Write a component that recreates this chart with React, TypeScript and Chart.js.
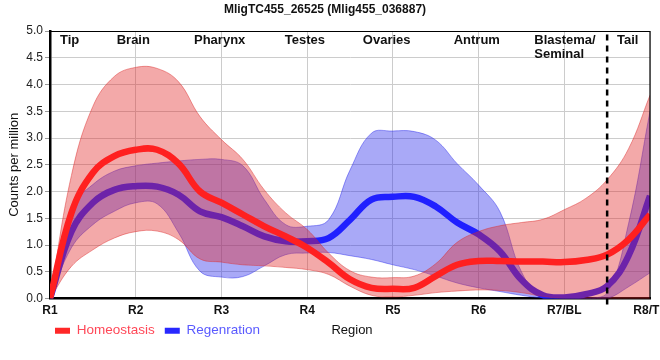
import { useEffect, useRef } from "react";
import { Chart, registerables } from "chart.js";

Chart.register(...registerables);

const xPositions = [1, 1.25, 1.5, 1.75, 2, 2.25, 2.5, 2.75, 3, 3.25, 3.5, 3.75, 4, 4.25, 4.5, 4.75, 5, 5.25, 5.5, 5.75, 6, 6.25, 6.5, 6.75, 7, 7.25, 7.5, 7.75, 8];
const regionTickLabels = ["R1", "R2", "R3", "R4", "R5", "R6", "R7/BL", "R8/TL"];

const homeostasisMean = [0, 1.6, 2.35, 2.66, 2.78, 2.78, 2.52, 2.0, 1.79, 1.57, 1.35, 1.16, 0.95, 0.67, 0.36, 0.2, 0.18, 0.2, 0.42, 0.63, 0.7, 0.7, 0.69, 0.69, 0.68, 0.72, 0.82, 1.1, 1.57];
const homeostasisUpper = [0, 2.3, 3.59, 4.15, 4.32, 4.3, 4.05, 3.4, 2.97, 2.6, 2.03, 1.6, 1.29, 0.85, 0.52, 0.4, 0.39, 0.42, 0.65, 1.05, 1.25, 1.36, 1.42, 1.48, 1.66, 1.87, 2.22, 2.8, 3.8];
const homeostasisLower = [0, 0.6, 0.91, 1.13, 1.25, 1.26, 1.1, 0.74, 0.68, 0.63, 0.61, 0.58, 0.54, 0.45, 0.23, 0.06, 0.03, 0.06, 0.11, 0.14, 0.16, 0.15, 0.11, 0.04, 0, 0, 0, 0, 0];
const regenerationMean = [0, 1.25, 1.79, 2.03, 2.1, 2.09, 1.94, 1.63, 1.52, 1.35, 1.16, 1.07, 1.07, 1.13, 1.47, 1.85, 1.9, 1.9, 1.72, 1.42, 1.2, 0.88, 0.35, 0.06, 0.02, 0.08, 0.23, 0.8, 1.92];
const regenerationUpper = [0, 1.7, 2.13, 2.38, 2.48, 2.53, 2.57, 2.6, 2.6, 2.48, 1.85, 1.38, 1.35, 1.47, 2.4, 3.09, 3.13, 3.12, 2.96, 2.52, 2.12, 1.62, 0.5, 0, 0, 0, 0.1, 1.4, 3.5];
const regenerationLower = [0, 0.95, 1.38, 1.63, 1.79, 1.77, 1.23, 0.51, 0.4, 0.41, 0.61, 0.82, 0.85, 0.86, 0.8, 0.73, 0.63, 0.54, 0.42, 0.29, 0.2, 0.13, 0.06, 0.01, 0, 0, 0, 0.22, 0.48];

const regionNames = [["Tip"], ["Brain"], ["Pharynx"], ["Testes"], ["Ovaries"], ["Antrum"], ["Blastema/", "Seminal"], ["Tail"]];
const regionNameX = [1.117, 1.778, 2.68, 3.74, 4.65, 5.71, 6.65, 7.615];
const boundaryX = [7.5, 7.5];
const boundaryY = [-0.11, 5];

const FONT = "'Liberation Sans', Arial, sans-serif";

const pts = (arr: number[]) => xPositions.map((x, i) => ({ x, y: arr[i] }));

const framePlugin = {
  id: "frameAndLabels",
  afterLayout(chart: any) {
    const lg = chart.legend;
    if (lg) {
      lg.left -= 5;
      lg.right -= 5;
    }
  },
  afterDraw(chart: any) {
    const { ctx, chartArea } = chart;
    const { left, right, top, bottom } = chartArea;
    const xs = chart.scales.x;
    ctx.save();
    ctx.strokeStyle = "#000";
    ctx.lineWidth = 1.2;
    ctx.beginPath();
    ctx.moveTo(left, top + 0.5);
    ctx.lineTo(right, top + 0.5);
    ctx.lineTo(right, bottom);
    ctx.stroke();

    ctx.fillStyle = "#111";
    ctx.font = `bold 13px ${FONT}`;
    ctx.textAlign = "left";
    ctx.textBaseline = "alphabetic";
    regionNames.forEach((lines, i) => {
      const px = xs.getPixelForValue(regionNameX[i]);
      lines.forEach((t, j) => ctx.fillText(t, px, top + 13 + j * 14));
    });

    const lg = chart.legend;
    if (lg && lg.legendHitBoxes && lg.legendHitBoxes.length) {
      const hb = lg.legendHitBoxes[0];
      ctx.font = `13px ${FONT}`;
      ctx.fillStyle = "#111";
      ctx.textAlign = "center";
      ctx.textBaseline = "middle";
      ctx.fillText("Region", (left + right) / 2 + 2, hb.top + hb.height / 2);
    }
    ctx.restore();
  },
};

export default function App() {
  const ref = useRef<HTMLCanvasElement | null>(null);
  useEffect(() => {
    if (!ref.current) return;
    const band = { pointRadius: 0, borderWidth: 1, tension: 0.4 };
    const chart = new Chart(ref.current, {
      type: "line",
      data: {
        datasets: [
          { label: "Homeostasis", data: pts(homeostasisMean), borderColor: "#ff2020", backgroundColor: "#ff2020", borderWidth: 6.5, pointRadius: 0, fill: false, order: 1, tension: 0.4 },
          { label: "hUpper", data: pts(homeostasisUpper), borderColor: "rgba(220,40,40,0.45)", backgroundColor: "rgba(225,40,40,0.4)", fill: 2, order: 2, ...band },
          { label: "hLower", data: pts(homeostasisLower), borderColor: "rgba(220,40,40,0.45)", fill: false, order: 3, ...band },
          { label: "Regenration", data: pts(regenerationMean), borderColor: "#2020ff", backgroundColor: "#2020ff", borderWidth: 6.5, pointRadius: 0, fill: false, order: 4, tension: 0.4 },
          { label: "rUpper", data: pts(regenerationUpper), borderColor: "rgba(40,40,235,0.45)", backgroundColor: "rgba(40,40,235,0.4)", fill: 5, order: 5, ...band },
          { label: "rLower", data: pts(regenerationLower), borderColor: "rgba(40,40,235,0.45)", fill: false, order: 6, ...band },
          { label: "boundary", data: boundaryX.map((x, i) => ({ x, y: boundaryY[i] })), borderColor: "#000", borderWidth: 2.5, borderDash: [6, 5], pointRadius: 0, fill: false, order: 0, clip: false as any },
        ] as any,
      },
      options: {
        animation: false,
        responsive: false,
        events: [],
        layout: { padding: { left: 0, right: 10, top: 0, bottom: 12.5 } },
        font: { family: FONT },
        scales: {
          x: {
            type: "linear",
            min: 1,
            max: 8,
            ticks: {
              stepSize: 1,
              autoSkip: false,
              maxRotation: 0,
              padding: 5,
              color: "#111",
              font: { family: FONT, size: 12, weight: "bold" },
              callback: (v: any) => regionTickLabels[Math.round(v) - 1] ?? "",
            },
            grid: { color: "#cccccc", drawTicks: false },
            border: { color: "#000", width: 2.5 },
            afterFit: (s: any) => {
              s.height = 15.5;
              s.paddingLeft = 0;
              s.paddingRight = 0;
            },
          },
          y: {
            min: 0,
            max: 5,
            ticks: {
              stepSize: 0.5,
              padding: 2,
              color: "#222",
              font: { family: FONT, size: 12 },
              callback: (v: any) => Number(v).toFixed(1),
            },
            grid: { color: "#cccccc", tickLength: 5, tickColor: "#999" },
            border: { color: "#000", width: 2.5 },
            title: { display: true, text: "Counts per million", color: "#111", font: { family: FONT, size: 13 }, padding: { top: 7, bottom: 2 } },
            afterFit: (s: any) => {
              s.width = 50;
            },
          },
        },
        plugins: {
          title: {
            display: true,
            text: "MligTC455_26525 (Mlig455_036887)",
            color: "#111",
            font: { family: FONT, size: 12, weight: "bold" },
            padding: { top: 2, bottom: 14.6 },
          },
          legend: {
            position: "bottom",
            align: "start",
            fullSize: false,
            labels: {
              boxWidth: 15,
              boxHeight: 6,
              padding: 10,
              font: { family: FONT, size: 13.5 },
              generateLabels: () => [
                { text: "Homeostasis", fillStyle: "#ff2828", strokeStyle: "#ff2828", lineWidth: 0, fontColor: "#ff4858", datasetIndex: 0, hidden: false },
                { text: "Regenration", fillStyle: "#2828ff", strokeStyle: "#2828ff", lineWidth: 0, fontColor: "#5a5aff", datasetIndex: 3, hidden: false },
              ] as any,
            },
          },
          tooltip: { enabled: false },
        },
      } as any,
      plugins: [framePlugin],
    });
    return () => chart.destroy();
  }, []);

  return (
    <div style={{ position: "absolute", left: 0, top: 0, width: 660, height: 360, overflow: "hidden", background: "#fff" }}>
      <canvas ref={ref} width={660} height={360} style={{ display: "block", width: 660, height: 360 }} />
    </div>
  );
}
